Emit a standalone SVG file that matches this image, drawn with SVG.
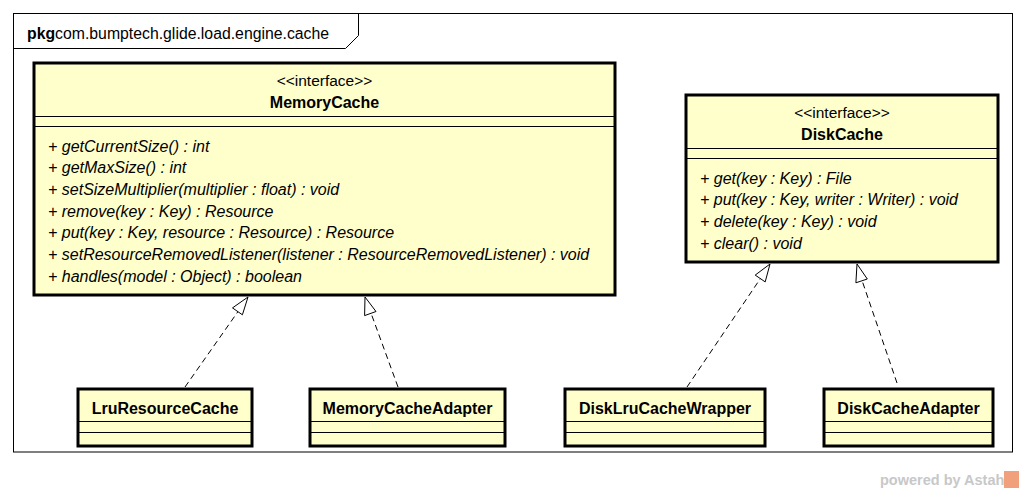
<svg xmlns="http://www.w3.org/2000/svg" width="1025" height="492" viewBox="0 0 1025 492">
<style>
text{font-family:"Liberation Sans",Arial,sans-serif;fill:#000}
.cls{fill:#FFFFCC;stroke:#000;stroke-width:3}
.sep{stroke:#000;stroke-width:1}
.name{font-size:16px;font-weight:bold;text-anchor:middle}
.st{font-size:15.5px;text-anchor:middle}
.op{font-size:16px;font-style:italic}
.dash{fill:none;stroke:#000;stroke-width:1;stroke-dasharray:6,4}
.head{fill:#fff;stroke:#000;stroke-width:1}
</style>
<rect width="1025" height="492" fill="#fff"/>
<g id="package">
<rect x="13.5" y="13.5" width="999" height="438.5" fill="none" stroke="#000"/>
<path d="M13.5 48.5 H345.5 L358.5 35.5 V13.5" fill="none" stroke="#000"/>
<text x="27" y="39" font-size="15.8"><tspan font-weight="bold">pkg</tspan><tspan>com.bumptech.glide.load.engine.cache</tspan></text>
</g>
<g id="MemoryCache">
<rect class="cls" x="34" y="63" width="581" height="232"/>
<line class="sep" x1="34" y1="116.5" x2="615" y2="116.5"/>
<line class="sep" x1="34" y1="126.5" x2="615" y2="126.5"/>
<text class="st" x="324.5" y="86">&lt;&lt;interface&gt;&gt;</text>
<text class="name" x="324.5" y="107.5">MemoryCache</text>
<text class="op" x="48" y="151.5">+ getCurrentSize() : int</text>
<text class="op" x="48" y="173.2">+ getMaxSize() : int</text>
<text class="op" x="48" y="194.9">+ setSizeMultiplier(multiplier : float) : void</text>
<text class="op" x="48" y="216.6">+ remove(key : Key) : Resource</text>
<text class="op" x="48" y="238.3">+ put(key : Key, resource : Resource) : Resource</text>
<text class="op" x="48" y="260">+ setResourceRemovedListener(listener : ResourceRemovedListener) : void</text>
<text class="op" x="48" y="281.7">+ handles(model : Object) : boolean</text>
</g>
<g id="DiskCache">
<rect class="cls" x="686" y="95" width="312" height="167"/>
<line class="sep" x1="686" y1="148.5" x2="998" y2="148.5"/>
<line class="sep" x1="686" y1="158.5" x2="998" y2="158.5"/>
<text class="st" x="842" y="118">&lt;&lt;interface&gt;&gt;</text>
<text class="name" x="842" y="139.5">DiskCache</text>
<text class="op" x="700" y="183.5">+ get(key : Key) : File</text>
<text class="op" x="700" y="205.2">+ put(key : Key, writer : Writer) : void</text>
<text class="op" x="700" y="226.9">+ delete(key : Key) : void</text>
<text class="op" x="700" y="248.6">+ clear() : void</text>
</g>
<g id="LruResourceCache">
<rect class="cls" x="78" y="389" width="174" height="57"/>
<line class="sep" x1="78" y1="421.5" x2="252" y2="421.5"/>
<line class="sep" x1="78" y1="432.5" x2="252" y2="432.5"/>
<text class="name" x="165" y="414">LruResourceCache</text>
</g>
<g id="MemoryCacheAdapter">
<rect class="cls" x="310" y="389" width="195" height="57"/>
<line class="sep" x1="310" y1="421.5" x2="505" y2="421.5"/>
<line class="sep" x1="310" y1="432.5" x2="505" y2="432.5"/>
<text class="name" x="407.5" y="414">MemoryCacheAdapter</text>
</g>
<g id="DiskLruCacheWrapper">
<rect class="cls" x="565" y="389" width="200" height="57"/>
<line class="sep" x1="565" y1="421.5" x2="765" y2="421.5"/>
<line class="sep" x1="565" y1="432.5" x2="765" y2="432.5"/>
<text class="name" x="665" y="414">DiskLruCacheWrapper</text>
</g>
<g id="DiskCacheAdapter">
<rect class="cls" x="824" y="389" width="169" height="57"/>
<line class="sep" x1="824" y1="421.5" x2="993" y2="421.5"/>
<line class="sep" x1="824" y1="432.5" x2="993" y2="432.5"/>
<text class="name" x="908.5" y="414">DiskCacheAdapter</text>
</g>
<g id="connectors">
<line class="dash" x1="185" y1="387" x2="240.5" y2="308"/>
<polygon class="head" points="248,297 242.4,314.8 232.5,307.9"/>
<line class="dash" x1="398" y1="387" x2="369.5" y2="309"/>
<polygon class="head" points="365,297 376,311.5 364.6,315.6"/>
<line class="dash" x1="687" y1="387" x2="763.5" y2="274"/>
<polygon class="head" points="770,264 765.2,281.9 755.2,275.1"/>
<line class="dash" x1="897" y1="383" x2="860.5" y2="276"/>
<polygon class="head" points="857,264 867.3,279.0 855.9,282.8"/>
</g>
<g id="watermark">
<text x="880" y="485" font-size="14.5" font-weight="bold" style="fill:#c8c8c8">powered by Astah</text>
<rect x="1004" y="471" width="15" height="17" fill="#f0a07a"/>
</g>
</svg>
